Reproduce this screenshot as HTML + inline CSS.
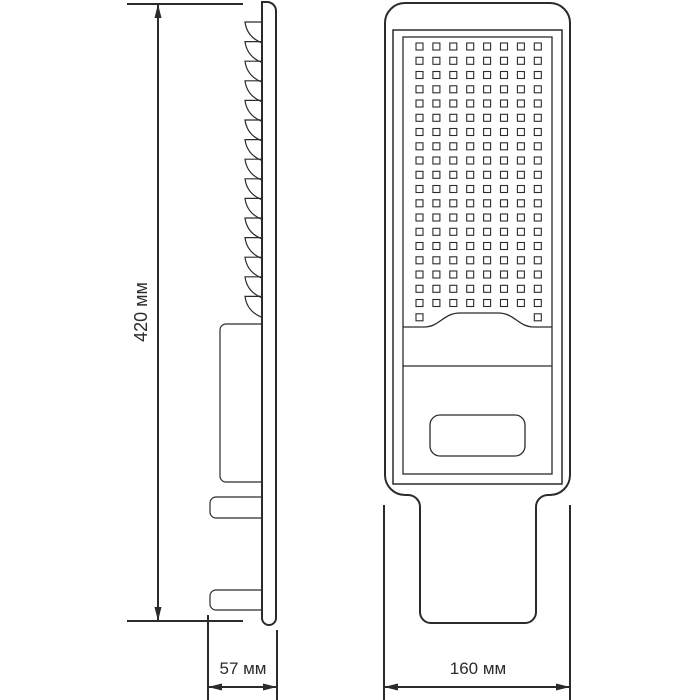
<!DOCTYPE html>
<html><head><meta charset="utf-8"><style>
html,body{margin:0;padding:0;background:#fff;}
svg{display:block}
text{font-family:"Liberation Sans","DejaVu Sans",sans-serif;fill:#2b2b2b;}
</style></head><body>
<svg width="700" height="700" viewBox="0 0 700 700" xmlns="http://www.w3.org/2000/svg">
<defs>
<marker id="a" viewBox="0 0 10 10" refX="10" refY="5" markerWidth="8" markerHeight="8" orient="auto-start-reverse" markerUnits="userSpaceOnUse"><path d="M0,1 L10,5 L0,9 Z" fill="#2b2b2b"/></marker>
<marker id="b" viewBox="0 0 10 10" refX="10" refY="5" markerWidth="14" markerHeight="14" orient="auto-start-reverse" markerUnits="userSpaceOnUse"><path d="M0,2.5 L10,5 L0,7.5 Z" fill="#2b2b2b"/></marker>
</defs>
<g stroke="#2b2b2b" stroke-width="2" fill="none">
<!-- left height dimension -->
<line x1="127" y1="4" x2="243" y2="4"/>
<line x1="127" y1="621" x2="243" y2="621"/>
<line x1="158" y1="4" x2="158" y2="621" marker-start="url(#b)" marker-end="url(#b)"/>
<!-- 57 dimension -->
<line x1="208" y1="615" x2="208" y2="700"/>
<line x1="277" y1="630" x2="277" y2="700"/>
<line x1="208" y1="687" x2="277" y2="687" marker-start="url(#b)" marker-end="url(#b)"/>
<!-- 160 dimension -->
<line x1="384" y1="505" x2="384" y2="700"/>
<line x1="570" y1="505" x2="570" y2="700"/>
<line x1="384" y1="687" x2="570" y2="687" marker-start="url(#b)" marker-end="url(#b)"/>
</g>
<!-- side view -->
<g stroke="#2b2b2b" stroke-width="1.6" fill="none">
<path d="M262,2 H267 A9,9 0 0 1 276,11 V618 A7,7 0 0 1 262,618 Z" stroke-width="2"/>
<path d="M262,324 H226 A6,6 0 0 0 220,330 V476 A6,6 0 0 0 226,482 H262" stroke-width="1.2"/>
<path d="M262,497 H216 A6,6 0 0 0 210,503 V512 A6,6 0 0 0 216,518 H262" stroke-width="1.2"/>
<path d="M262,590 H216 A6,6 0 0 0 210,596 V604 A6,6 0 0 0 216,610 H262" stroke-width="1.2"/>
<g stroke-width="1.2">
<path d="M262,22 H245 Q247,37 262,43"/><path d="M262,41.6 H245 Q247,56.6 262,62.6"/>
<path d="M262,61.2 H245 Q247,76.2 262,82.2"/><path d="M262,80.8 H245 Q247,95.8 262,101.8"/>
<path d="M262,100.4 H245 Q247,115.4 262,121.4"/><path d="M262,120 H245 Q247,135 262,141"/>
<path d="M262,139.6 H245 Q247,154.6 262,160.6"/><path d="M262,159.2 H245 Q247,174.2 262,180.2"/>
<path d="M262,178.8 H245 Q247,193.8 262,199.8"/><path d="M262,198.4 H245 Q247,213.4 262,219.4"/>
<path d="M262,218 H245 Q247,233 262,239"/><path d="M262,237.6 H245 Q247,252.6 262,258.6"/>
<path d="M262,257.2 H245 Q247,272.2 262,278.2"/><path d="M262,276.8 H245 Q247,291.8 262,297.8"/>
<path d="M262,296.4 H245 Q247,311.4 262,317.4"/>
</g>
</g>
<!-- front view -->
<g stroke="#2b2b2b" fill="none">
<path stroke-width="2" d="M405,3 H550 A20,20 0 0 1 570,23 V475 A20,20 0 0 1 550,495 H548 A12,12 0 0 0 536,507 V612 A11,11 0 0 1 525,623 H431 A11,11 0 0 1 420,612 V507 A12,12 0 0 0 408,495 H405 A20,20 0 0 1 385,475 V23 A20,20 0 0 1 405,3 Z"/>
<rect x="393" y="30" width="169" height="454" stroke-width="1.5"/>
<rect x="403" y="37" width="149" height="437" stroke-width="1.3"/>
<path d="M403,327 H424 C440,327 443,313 460,313 H498 C515,313 518,327 534,327 H552" stroke-width="1.3"/>
<line x1="403" y1="366" x2="552" y2="366" stroke-width="1.3"/>
<rect x="430" y="415" width="95" height="41" rx="10" stroke-width="1.3"/>
<g id="leds" stroke-width="1.1"></g>
</g>
<text x="142" y="312" font-size="18" text-anchor="middle" transform="rotate(-90 142 312)" dominant-baseline="middle">420 мм</text>
<text x="243" y="674" font-size="17" text-anchor="middle">57 мм</text>
<text x="478" y="674" font-size="17" text-anchor="middle">160 мм</text>
</svg>
<script>
var g=document.getElementById('leds'),s='';
for(var r=0;r<20;r++){for(var c=0;c<8;c++){if(r==19&&c>0&&c<7)continue;
var x=416+c*16.9,y=43+r*14.25;
s+='<rect x="'+x.toFixed(1)+'" y="'+y.toFixed(1)+'" width="7" height="7"/>';}}
g.innerHTML=s;
</script>
</body></html>
